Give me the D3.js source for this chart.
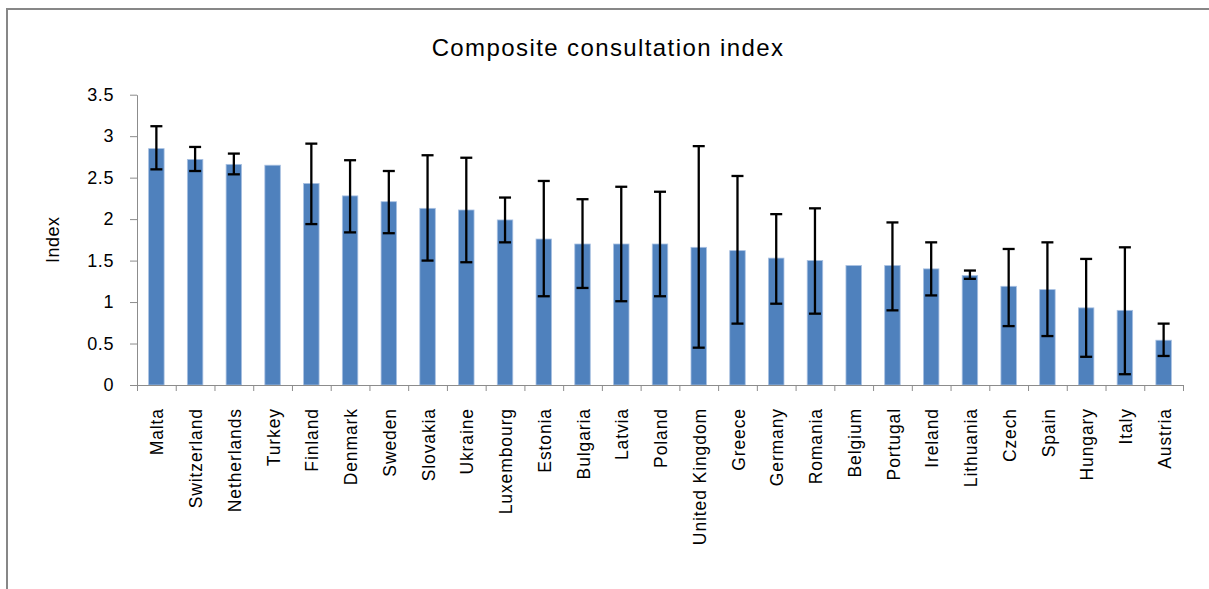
<!DOCTYPE html>
<html>
<head>
<meta charset="utf-8">
<script src="https://cdn.jsdelivr.net/npm/d3@7"></script>
<style>
  body { margin: 0; background: #fff; }
  text { font-family: "Liberation Sans", Arial, sans-serif; fill: #000; }
</style>
</head>
<body>
<div id="chart"></div>
<script>
// data
var countries = ["Malta", "Switzerland", "Netherlands", "Turkey", "Finland", "Denmark", "Sweden",
  "Slovakia", "Ukraine", "Luxembourg", "Estonia", "Bulgaria", "Latvia", "Poland", "United Kingdom",
  "Greece", "Germany", "Romania", "Belgium", "Portugal", "Ireland", "Lithuania", "Czech", "Spain",
  "Hungary", "Italy", "Austria"];
var values = [2.85, 2.72, 2.66, 2.65, 2.43, 2.28, 2.21, 2.13, 2.11, 1.99, 1.76, 1.70, 1.70, 1.70, 1.66,
  1.62, 1.53, 1.50, 1.44, 1.44, 1.40, 1.32, 1.19, 1.15, 0.93, 0.90, 0.54];
var errHigh = [3.12, 2.87, 2.79, null, 2.91, 2.71, 2.58, 2.77, 2.74, 2.26, 2.46, 2.24, 2.39, 2.33, 2.88,
  2.52, 2.06, 2.13, null, 1.96, 1.72, 1.38, 1.64, 1.72, 1.52, 1.66, 0.74];
var errLow = [2.60, 2.58, 2.54, null, 1.94, 1.84, 1.83, 1.50, 1.48, 1.72, 1.07, 1.17, 1.01, 1.07, 0.45,
  0.74, 0.98, 0.86, null, 0.90, 1.08, 1.28, 0.71, 0.59, 0.34, 0.13, 0.35];
var yTicks = [0, 0.5, 1, 1.5, 2, 2.5, 3, 3.5];

var W = 1209, H = 589;
var plotLeft = 137, plotRight = 1183, plotTop = 94.7, plotBottom = 385;

var svg = d3.select("#chart")
  .append("svg")
  .attr("width", W)
  .attr("height", H);

// outer frame (runs off the right and bottom edges)
svg.append("rect")
  .attr("x", 7).attr("y", 9)
  .attr("width", W + 20).attr("height", H + 20)
  .attr("fill", "#fff")
  .attr("stroke", "#878787")
  .attr("stroke-width", 2);

var data = countries.map(function (c, i) {
  return { name: c, value: values[i], hi: errHigh[i], lo: errLow[i] };
});

var x = d3.scaleBand()
  .domain(countries)
  .range([plotLeft, plotRight])
  .paddingInner(0.6)
  .paddingOuter(0.3);

var y = d3.scaleLinear()
  .domain([0, 3.5])
  .range([plotBottom, plotTop]);

// title
svg.append("text")
  .attr("x", 608)
  .attr("y", 56)
  .attr("text-anchor", "middle")
  .style("font-size", "24px")
  .style("letter-spacing", "1.4px")
  .text("Composite consultation index");

// y title
svg.append("text")
  .attr("transform", "translate(59," + ((plotTop + plotBottom) / 2) + ") rotate(-90)")
  .attr("text-anchor", "middle")
  .style("font-size", "18px")
  .style("letter-spacing", "0.5px")
  .text("Index");

// Y axis
var yAxis = svg.append("g")
  .attr("transform", "translate(" + plotLeft + ",0)")
  .call(d3.axisLeft(y).tickValues(yTicks).tickFormat(d3.format("")).tickSize(7).tickSizeOuter(0).tickPadding(16));
yAxis.selectAll("text").style("font-size", "18px").style("letter-spacing", "0.6px");
yAxis.selectAll("line, path").attr("stroke", "#8c8c8c");

// bars
svg.append("g")
  .selectAll("rect")
  .data(data)
  .enter()
  .append("rect")
  .attr("x", function (d) { return x(d.name); })
  .attr("y", function (d) { return y(d.value); })
  .attr("width", x.bandwidth())
  .attr("height", function (d) { return plotBottom - y(d.value); })
  .attr("fill", "#4f81bd")
  .attr("stroke", "#a9c1e2")
  .attr("stroke-width", 0.8);

// X axis: tick marks at category edges
var edges = d3.scaleLinear().domain([0, countries.length]).range([plotLeft, plotRight]);
var xEdge = svg.append("g")
  .attr("transform", "translate(0," + plotBottom + ")")
  .call(d3.axisBottom(edges).tickValues(d3.range(countries.length + 1)).tickFormat("").tickSize(6).tickSizeOuter(0));
xEdge.selectAll("line, path").attr("stroke", "#8c8c8c");

// category labels
var xAxis = svg.append("g")
  .attr("transform", "translate(0," + plotBottom + ")")
  .call(d3.axisBottom(x).tickSize(0));
xAxis.select(".domain").remove();
xAxis.selectAll("text")
  .attr("transform", "rotate(-90)")
  .attr("x", -23)
  .attr("y", 1)
  .attr("dy", "0.35em")
  .style("text-anchor", "end")
  .style("font-size", "17.5px")
  .style("letter-spacing", "0.9px");

// error bars
var withErr = data.filter(function (d) { return d.hi != null; });
var cap = 6;
var eb = svg.append("g").attr("stroke", "#000").attr("stroke-width", 2.3);
eb.selectAll(".stem")
  .data(withErr)
  .enter()
  .append("line")
  .attr("x1", function (d) { return x(d.name) + x.bandwidth() / 2; })
  .attr("x2", function (d) { return x(d.name) + x.bandwidth() / 2; })
  .attr("y1", function (d) { return y(d.hi); })
  .attr("y2", function (d) { return y(d.lo); });
eb.selectAll(".capHi")
  .data(withErr)
  .enter()
  .append("line")
  .attr("x1", function (d) { return x(d.name) + x.bandwidth() / 2 - cap; })
  .attr("x2", function (d) { return x(d.name) + x.bandwidth() / 2 + cap; })
  .attr("y1", function (d) { return y(d.hi); })
  .attr("y2", function (d) { return y(d.hi); });
eb.selectAll(".capLo")
  .data(withErr)
  .enter()
  .append("line")
  .attr("x1", function (d) { return x(d.name) + x.bandwidth() / 2 - cap; })
  .attr("x2", function (d) { return x(d.name) + x.bandwidth() / 2 + cap; })
  .attr("y1", function (d) { return y(d.lo); })
  .attr("y2", function (d) { return y(d.lo); });
</script>
</body>
</html>
